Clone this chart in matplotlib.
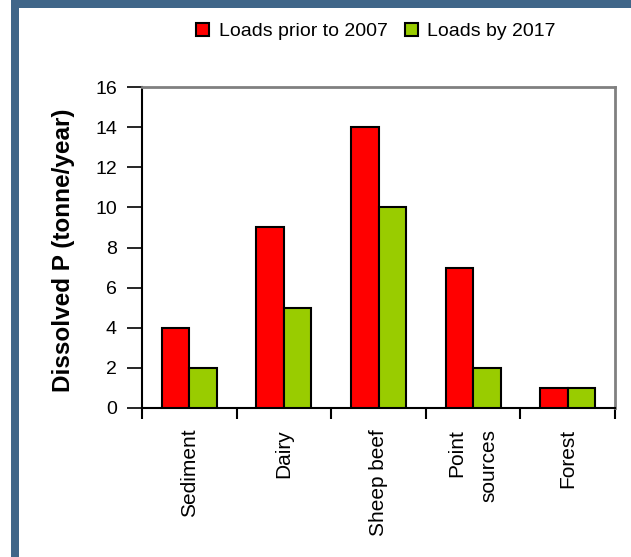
import matplotlib
matplotlib.use("Agg")
import matplotlib.pyplot as plt
import numpy as np
from matplotlib.patches import Rectangle

# chart data
categories = ["Sediment", "Dairy", "Sheep beef", "Point\nsources", "Forest"]
loads_prior_2007 = [4, 9, 14, 7, 1]
loads_by_2017 = [2, 5, 10, 2, 1]
series_names = ["Loads prior to 2007", "Loads by 2017"]
y_ticks = [0, 2, 4, 6, 8, 10, 12, 14, 16]

plt.rcParams["font.family"] = ["Liberation Sans", "DejaVu Sans"]

fig = plt.figure(figsize=(6.31, 5.57), dpi=100)
fig.patch.set_facecolor("white")

# blue frame at the left and top edges
border = "#406689"
fig.patches.append(Rectangle((11 / 631, 0), 8 / 631, 1, transform=fig.transFigure,
                             facecolor=border, edgecolor="none"))
fig.patches.append(Rectangle((11 / 631, 1 - 8 / 557), 1, 8 / 557, transform=fig.transFigure,
                             facecolor=border, edgecolor="none"))

ax = fig.add_axes([142 / 631, 1 - 408 / 557, 473 / 631, 321 / 557])

x = np.arange(len(categories))
w = 0.29
ax.bar(x - w / 2, loads_prior_2007, w, color="#ff0000", edgecolor="black",
       linewidth=1.5, label=series_names[0], zorder=3)
ax.bar(x + w / 2, loads_by_2017, w, color="#99cc00", edgecolor="black",
       linewidth=1.5, label=series_names[1], zorder=3)

ax.set_xlim(-0.5, len(categories) - 0.5)
ax.set_ylim(0, 16)
ax.set_yticks(y_ticks)
ax.tick_params(axis="y", direction="out", length=11, width=1.2, labelsize=14, pad=7)

# ticks at category boundaries, labels at centers
ax.set_xticks(np.arange(len(categories) + 1) - 0.5)
ax.set_xticklabels([])
ax.tick_params(axis="x", which="major", direction="out", length=8, width=1.5)
ax.set_xticks(x, minor=True)
ax.set_xticklabels(categories, minor=True, rotation=90, fontsize=15,
                   va="top", ha="center", multialignment="right", linespacing=1.9)
ax.tick_params(axis="x", which="minor", length=0, pad=15)

ax.spines["left"].set_color("black")
ax.spines["bottom"].set_color("black")
ax.spines["left"].set_linewidth(1.5)
ax.spines["bottom"].set_linewidth(1.5)
ax.spines["top"].set_color("#808080")
ax.spines["right"].set_color("#808080")
ax.spines["top"].set_linewidth(2)
ax.spines["right"].set_linewidth(2)

ax.set_ylabel("Dissolved P (tonne/year)", fontsize=17.5, fontweight="bold")
ax.yaxis.set_label_coords(-0.142, 0.49)

fig.legend(loc="center", bbox_to_anchor=(0.596, 0.944), ncol=2, frameon=False,
           fontsize=14, handlelength=0.65, handleheight=0.65, handletextpad=0.5,
           columnspacing=0.9)

fig.savefig("out.png", dpi=100, facecolor="white")
